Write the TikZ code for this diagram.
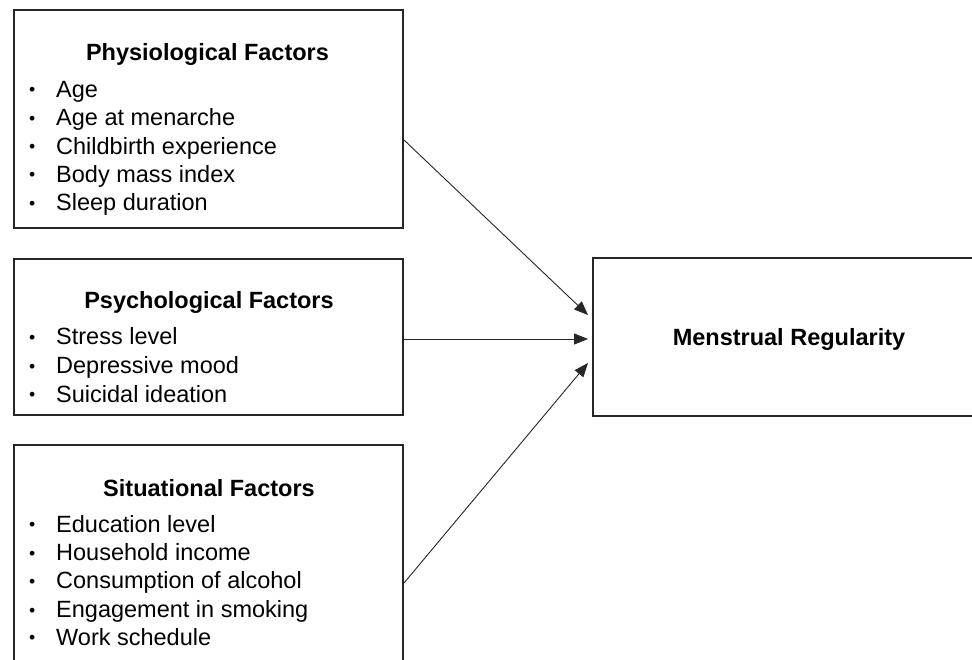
\documentclass[tikz,border=0pt]{standalone}
\usepackage{fontspec}
\setmainfont{Liberation Sans}
\usetikzlibrary{arrows.meta}
\tikzset{
  box/.style={draw=black!85, line width=2pt, fill=none, inner sep=0pt},
  ttl/.style={anchor=base, inner sep=0pt, font=\fontsize{23.5}{27}\selectfont\bfseries},
  itm/.style={anchor=base west, inner sep=0pt, font=\fontsize{23.5}{27}\selectfont},
  arr/.style={draw=black!85, line width=0.9pt, -{Triangle[length=14pt,width=11pt]}}
}
\newcommand{\bul}{\makebox[28pt][l]{\hspace{1pt}\raisebox{1.5pt}{\scalebox{0.75}{\textbullet}}}}
\begin{document}
\begin{tikzpicture}[x=1pt,y=-1pt]
\useasboundingbox (0,0) rectangle (972,659);
\fill[white] (0,0) rectangle (972,659);
\clip (0,0) rectangle (972,659);
% boxes
\node[box, minimum width=389pt, minimum height=218pt] (phys) at (208.5,119) {};
\node[box, minimum width=389pt, minimum height=156pt] (psych) at (208.5,337) {};
\node[box, minimum width=389pt, minimum height=255pt] (sit) at (208.5,572.5) {};
\node[box, minimum width=407pt, minimum height=158pt] (reg) at (796.5,337) {};
% physiological
\node[ttl] (t1) at (207.5,60) {Physiological Factors};
\node[itm] (a1) at (28,97) {\bul Age};
\node[itm] (a2) at (28,125.5) {\bul Age at menarche};
\node[itm] (a3) at (28,154) {\bul Childbirth experience};
\node[itm] (a4) at (28,182) {\bul Body mass index};
\node[itm] (a5) at (28,210.5) {\bul Sleep duration};
% psychological
\node[ttl] (t2) at (209,308.5) {Psychological Factors};
\node[itm] (b1) at (28,344.5) {\bul Stress level};
\node[itm] (b2) at (28,373.5) {\bul Depressive mood};
\node[itm] (b3) at (28,402) {\bul Suicidal ideation};
% situational
\node[ttl] (t3) at (209,496) {Situational Factors};
\node[itm] (c1) at (28,532) {\bul Education level};
\node[itm] (c2) at (28,560.5) {\bul Household income};
\node[itm] (c3) at (28,588.5) {\bul Consumption of alcohol};
\node[itm] (c4) at (28,617.5) {\bul Engagement in smoking};
\node[itm] (c5) at (28,645) {\bul Work schedule};
% outcome
\node[ttl] (t4) at (789,345) {Menstrual Regularity};
% arrows
\draw[arr] ([yshift=-21pt]phys.east) -- ([xshift=-4pt,yshift=22pt]reg.west);
\draw[arr] ([yshift=-2pt]psych.east) -- ([xshift=-4pt,yshift=-2pt]reg.west);
\draw[arr] ([yshift=-10.5pt]sit.east) -- ([xshift=-4pt,yshift=-26pt]reg.west);
\end{tikzpicture}
\end{document}
